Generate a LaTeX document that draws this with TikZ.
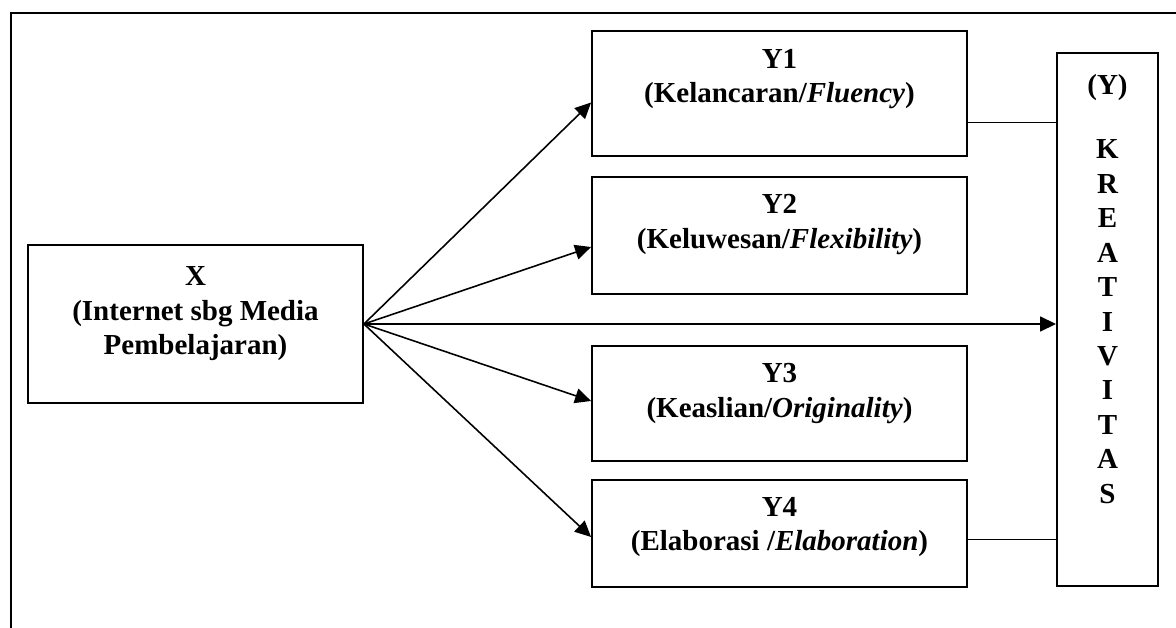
\documentclass[tikz,border=0pt]{standalone}
\usepackage{fontspec}
\setmainfont{Liberation Serif}
\usetikzlibrary{calc}
\usetikzlibrary{positioning}
\usetikzlibrary{arrows.meta}

\tikzset{
  box/.style={draw, line width=1.1pt, inner sep=0pt},
  txt/.style={align=center, inner sep=0pt, font=\bfseries\fontsize{16.5}{19.6}\selectfont},
  arr/.style={line width=.9pt, -{Triangle[length=.32cm,width=.3cm]}},
  conn/.style={line width=.9pt}
}

\begin{document}
\begin{tikzpicture}[x=.02cm,y=-.02cm]
\useasboundingbox (0,0) rectangle (1176,628);
\draw[line width=1.1pt] (11,628) -- (11,13) -- (1176,13);
\node[box, minimum width=6.7cm, minimum height=3.16cm] (x) at (195.5,324) {};
\node[box, minimum width=7.5cm, minimum height=2.5cm] (y1) at (779.5,93.5) {};
\node[box, minimum width=7.5cm, minimum height=2.34cm] (y2) at (779.5,235.5) {};
\node[box, minimum width=7.5cm, minimum height=2.30cm] (y3) at (779.5,403.5) {};
\node[box, minimum width=7.5cm, minimum height=2.14cm] (y4) at (779.5,533.5) {};
\node[box, minimum width=2.02cm, minimum height=10.66cm] (k) at (1107.5,319.5) {};
% texts
\node[txt, below=.45cm of x.north] (xt) {X\\(Internet sbg Media\\Pembelajaran)};
\node[txt, below=.37cm of y1.north] (y1t) {Y1\\(Kelancaran/\textit{Fluency})};
\node[txt, below=.36cm of y2.north] (y2t) {Y2\\(Keluwesan/\textit{Flexibility})};
\node[txt, below=.36cm of y3.north] (y3t) {Y3\\(Keaslian/\textit{Originality})};
\node[txt, below=.36cm of y4.north] (y4t) {Y4\\(Elaborasi /\textit{Elaboration})};
\node[txt, below=.44cm of k.north] (kt) {(Y)\\[17pt]K\\R\\E\\A\\T\\I\\V\\I\\T\\A\\S};
% arrows
\draw[arr] (x.east) -- ($(y1.west)+(0,9)$);
\draw[arr] (x.east) -- ($(y2.west)+(0,11.5)$);
\draw[arr] (x.east) -- (x.east -| k.west);
\draw[arr] (x.east) -- ($(y3.west)+(0,-2.5)$);
\draw[arr] (x.east) -- ($(y4.west)+(0,3.5)$);
\coordinate (a1) at ($(y1.east)+(0,29)$);
\coordinate (a4) at ($(y4.east)+(0,6)$);
\draw[conn] (a1) -- (a1 -| k.west);
\draw[conn] (a4) -- (a4 -| k.west);
\end{tikzpicture}
\end{document}
